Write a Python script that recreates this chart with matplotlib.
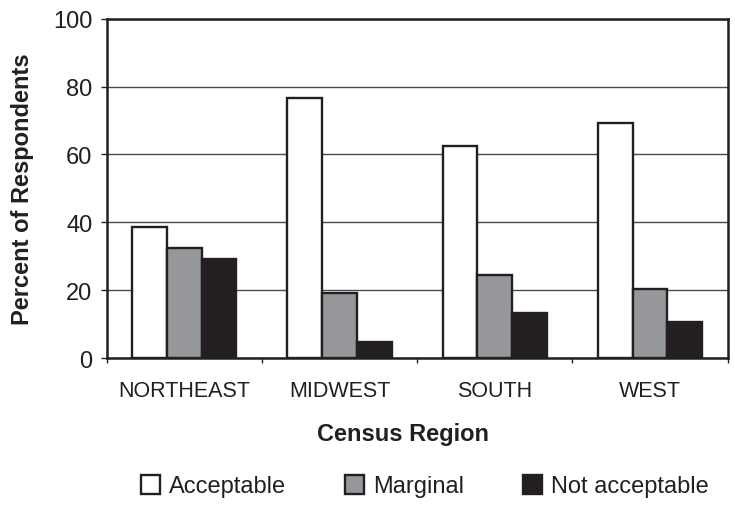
import matplotlib
matplotlib.use("Agg")
import matplotlib.pyplot as plt
from matplotlib.patches import Patch
import numpy as np

plt.rcParams['font.family'] = ['Liberation Sans', 'DejaVu Sans']

regions = ["NORTHEAST", "MIDWEST", "SOUTH", "WEST"]
series_names = ["Acceptable", "Marginal", "Not acceptable"]
acceptable = [38.5, 76.5, 62.5, 69.3]
marginal = [32.5, 19.3, 24.6, 20.2]
not_acceptable = [29.2, 4.6, 13.4, 10.7]
y_ticks = [0, 20, 40, 60, 80, 100]

ink = "#231f20"
fills = ["#ffffff", "#96979b", ink]
values = [acceptable, marginal, not_acceptable]

fig = plt.figure(figsize=(7.35, 5.06), dpi=100)
ax = fig.add_axes([0.1452, 0.2905, 0.8448, 0.6705])

x = np.arange(len(regions))
w = 0.224
for j, (vals, fc) in enumerate(zip(values, fills)):
    ax.bar(x + (j - 1) * w, vals, width=w, color=fc, edgecolor=ink,
           linewidth=1.7, zorder=3, label=series_names[j])

ax.set_xlim(-0.5, len(regions) - 0.5)
ax.set_ylim(0, 100)
ax.set_yticks(y_ticks)
ax.set_yticklabels([str(t) for t in y_ticks], fontsize=17, color=ink)
ax.yaxis.grid(True, color="#4a4a4a", linewidth=1.0, zorder=0)
ax.set_axisbelow(True)

# category labels sit centred; tick marks fall on the boundaries
ax.set_xticks(x)
ax.set_xticklabels(regions, fontsize=15.5, color=ink)
ax.tick_params(axis='x', which='major', length=0, pad=15.5)
ax.set_xticks(np.arange(-0.5, len(regions)), minor=True)
ax.tick_params(axis='x', which='minor', length=3.8, width=1.0, color=ink, direction='out')
ax.tick_params(axis='y', length=4.3, width=1.0, color=ink, direction='out', pad=6.0)

for side in ["left", "bottom", "top", "right"]:
    ax.spines[side].set_color(ink)
    ax.spines[side].set_linewidth(1.8)

fig.text(23 / 735, 0.626, "Percent of Respondents", rotation=90, fontsize=17,
         fontweight='bold', color=ink, ha='center', va='center')
fig.text(403 / 735, 1 - 434 / 506, "Census Region", fontsize=17,
         fontweight='bold', color=ink, ha='center', va='center')

handles = [Patch(facecolor=fc, edgecolor=ink, linewidth=1.7) for fc in fills]
fig.legend(handles, series_names, loc='center', bbox_to_anchor=(425 / 735, 1 - 487 / 506),
           ncol=3, frameon=False, fontsize=17, handlelength=0.78, handleheight=0.85,
           handletextpad=0.4, columnspacing=2.5, labelcolor=ink)

fig.savefig("out.png", dpi=100)
